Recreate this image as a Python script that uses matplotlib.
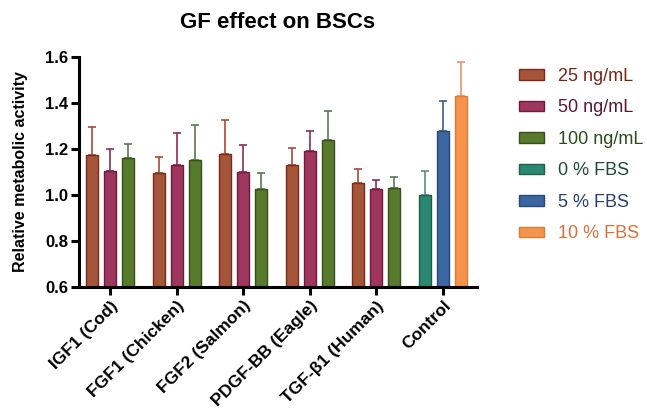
import matplotlib
matplotlib.use("Agg")
import numpy as np
import matplotlib.pyplot as plt

plt.rcParams["font.family"] = ["Liberation Sans", "DejaVu Sans"]

# values
groups = ["IGF1 (Cod)", "FGF1 (Chicken)", "FGF2 (Salmon)", "PDGF-BB (Eagle)", "TGF-β1 (Human)", "Control"]

ng25 = [1.174, 1.095, 1.180, 1.130, 1.054]
ng25_err = [0.120, 0.069, 0.145, 0.076, 0.060]
ng50 = [1.106, 1.132, 1.099, 1.192, 1.027]
ng50_err = [0.094, 0.138, 0.117, 0.085, 0.039]
ng100 = [1.162, 1.154, 1.027, 1.240, 1.031]
ng100_err = [0.061, 0.151, 0.068, 0.125, 0.049]

fbs_labels = ["0 % FBS", "5 % FBS", "10 % FBS"]
fbs_vals = [1.000, 1.277, 1.432]
fbs_err = [0.104, 0.133, 0.148]


def draw_bars(ax, x, vals, errs, face, edge, ecolor, label):
    ax.bar(x, vals, width=0.18, color=face, edgecolor=edge, linewidth=1.0, label=label, zorder=2)
    ax.errorbar(x, vals, yerr=[np.zeros(len(errs)), errs], fmt="none", ecolor=ecolor,
                elinewidth=1.2, capsize=3, capthick=1.2, zorder=1)


fig = plt.figure(figsize=(6.47, 4.13), dpi=100)
ax = fig.add_axes([79 / 647, 126 / 413, 398 / 647, 230 / 413])

gx = np.arange(5)
off = 0.27
draw_bars(ax, gx - off, ng25, ng25_err, "#A5553A", "#7A2A18", "#A8483A", "25 ng/mL")
draw_bars(ax, gx, ng50, ng50_err, "#9E365E", "#6E1C3E", "#8A2F52", "50 ng/mL")
draw_bars(ax, gx + off, ng100, ng100_err, "#587A2C", "#36501A", "#5F7658", "100 ng/mL")

cx = 5 + np.array([-off, 0, off])
fbs_face = ["#2A8870", "#3B66A0", "#F3944A"]
fbs_edge = ["#1D5E4C", "#294A78", "#E07A38"]
fbs_ecol = ["#5F8C7E", "#3D5A8E", "#E8907A"]
for i in range(3):
    draw_bars(ax, [cx[i]], [fbs_vals[i]], [fbs_err[i]], fbs_face[i], fbs_edge[i], fbs_ecol[i], fbs_labels[i])

ax.set_xlim(-0.465, 5.51)
ax.set_ylim(0.6, 1.6)
ax.set_yticks([0.6, 0.8, 1.0, 1.2, 1.4, 1.6])
ax.set_yticklabels(["0.6", "0.8", "1.0", "1.2", "1.4", "1.6"], fontsize=12, fontweight="bold")
ax.set_xticks(np.arange(6))
ax.set_xticklabels(groups, rotation=45, ha="right", rotation_mode="anchor",
                   fontsize=12.5, fontweight="bold")
for s in ["top", "right"]:
    ax.spines[s].set_visible(False)
for s in ["left", "bottom"]:
    ax.spines[s].set_linewidth(2.2)
ax.tick_params(axis="both", width=2.2, length=6, pad=2)
ax.set_ylabel("Relative metabolic activity", fontsize=11.5, fontweight="bold", labelpad=12)
ax.set_title("GF effect on BSCs", fontsize=16, fontweight="bold", pad=21)

leg = fig.legend(loc="upper left", bbox_to_anchor=(519 / 647, 345 / 413), frameon=False,
                 fontsize=13, handlelength=1.4, handleheight=0.5, handletextpad=0.75,
                 labelspacing=0.8, borderpad=0, borderaxespad=0)
text_cols = ["#7A2418", "#5A1632", "#2E4A1C", "#1E4A3A", "#263F72", "#D9703A"]
for t, c in zip(leg.get_texts(), text_cols):
    t.set_color(c)

fig.savefig("out.png", dpi=100)
